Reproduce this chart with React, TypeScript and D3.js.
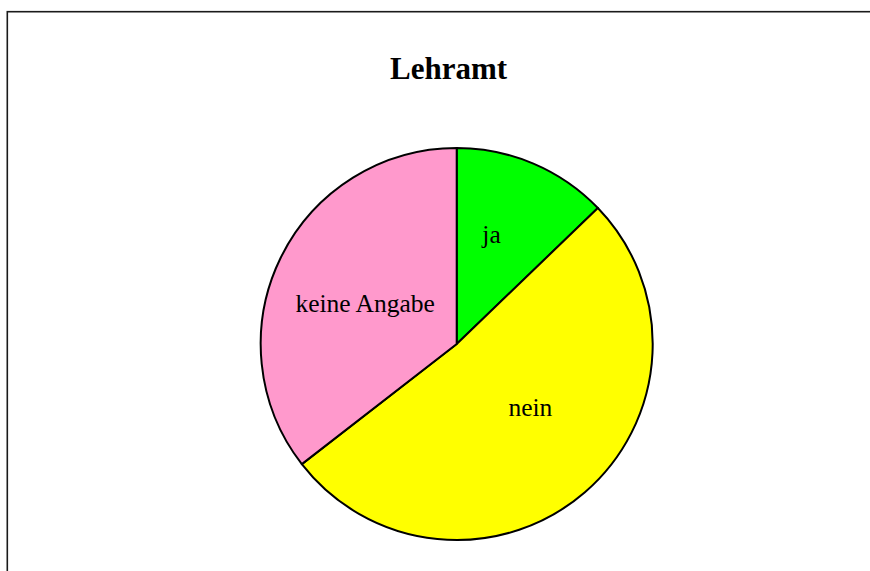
import { useMemo } from 'react'
import * as d3 from 'd3'

const WIDTH = 870
const HEIGHT = 571

const TITLE = 'Lehramt'
const CATEGORIES = ['ja', 'nein', 'keine Angabe']
const VALUES = [12.8, 51.7, 35.5]
const COLORS = ['#00ff00', '#ffff00', '#ff99cc']

const CX = 456.7
const CY = 344
const RADIUS = 196

// small per-label nudges, the original placement is not a clean centroid
const LABEL_NUDGE = [[-5, -16], [7, -14], [0, 4]]

export default function App() {
  const arcs = useMemo(() => {
    const pie = d3.pie<number>().sort(null).value(d => d)
    return pie(VALUES)
  }, [])

  const arc = d3.arc<d3.PieArcDatum<number>>().innerRadius(0).outerRadius(RADIUS)
  const labelArc = d3.arc<d3.PieArcDatum<number>>().innerRadius(RADIUS * 0.52).outerRadius(RADIUS * 0.52)

  return (
    <div style={{ position: 'absolute', top: 0, left: 0 }}>
      <svg width={WIDTH} height={HEIGHT} style={{ display: 'block', background: '#fff' }}>
        {/* outer frame, runs off the page on the right and bottom */}
        <rect x={7.3} y={11.7} width={WIDTH + 20} height={HEIGHT + 20}
          fill="none" stroke="#1a1a1a" strokeWidth={1.6} />

        <text x={448.5} y={78.5} textAnchor="middle"
          fontFamily="'Liberation Serif', 'DejaVu Serif', serif" fontWeight="bold" fontSize={31}>
          {TITLE}
        </text>

        <g transform={`translate(${CX},${CY})`}>
          {arcs.map((a, i) => (
            <path key={CATEGORIES[i]} d={arc(a) ?? ''} fill={COLORS[i]}
              stroke="#000" strokeWidth={2} strokeLinejoin="round" />
          ))}
          {arcs.map((a, i) => {
            const [x, y] = labelArc.centroid(a)
            const [nx, ny] = LABEL_NUDGE[i]
            return (
              <text key={'l' + i} x={x + nx} y={y + ny} textAnchor="middle" dominantBaseline="central"
                fontFamily="'Liberation Serif', 'DejaVu Serif', serif" fontSize={25.5} fill="#000">
                {CATEGORIES[i]}
              </text>
            )
          })}
        </g>
      </svg>
    </div>
  )
}
